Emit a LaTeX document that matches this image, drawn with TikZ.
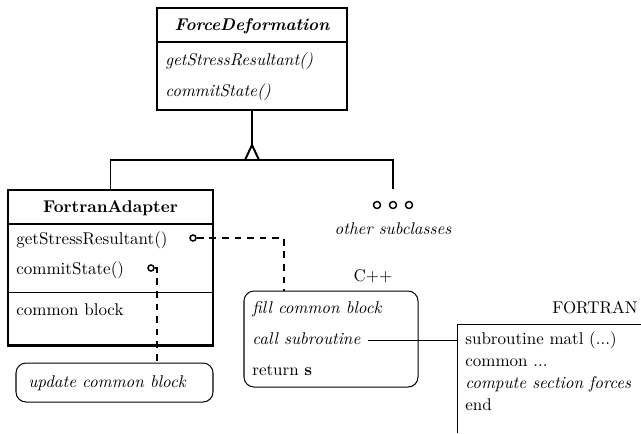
\documentclass[tikz,border=0pt]{standalone}
\usetikzlibrary{calc}
\def\pxu{0.5882pt}
\begin{document}
\begin{tikzpicture}[x=\pxu, y=-\pxu,
  heavy/.style={line width=1.75pt},
  medium/.style={line width=1.15pt},
  hair/.style={line width=0.6pt},
  dashconn/.style={line width=1.1pt, dash pattern=on 4pt off 3.4pt},
  box/.style={draw, rectangle, inner sep=0pt, outer sep=0pt, anchor=north west},
  txt/.style={inner sep=0pt, anchor=west, text height=7pt, text depth=2pt},
  ctxt/.style={inner sep=0pt, text height=7pt, text depth=2pt},
  port/.style={circle, draw, line width=0.9pt, inner sep=0pt, minimum size={6*\pxu}},
  dot/.style={circle, draw, line width=0.85pt, inner sep=0pt, minimum size={7*\pxu}},
  note/.style={draw, hair, rectangle, rounded corners={10*\pxu}, inner sep=0pt, outer sep=0pt, anchor=north west}]
\useasboundingbox (0,0) rectangle (641,433);

% abstract base class
\node[box, heavy, minimum width={190*\pxu}, minimum height={102*\pxu}] (fd) at (157,8) {};
\draw[heavy] (fd.west |- 0,42) -- (fd.east |- 0,42);
\node[ctxt] (fdname) at (252,26) {\bfseries\itshape ForceDeformation};
\node[txt] (fdm1) at (165,61) {\itshape getStressResultant()};
\node[txt] (fdm2) at (165,92) {\itshape commitState()};

% adapter subclass
\node[box, heavy, minimum width={205*\pxu}, minimum height={155*\pxu}] (fa) at (8,190) {};
\draw[line width=1.4pt] (fa.west |- 0,224) -- (fa.east |- 0,224);
\draw[hair] (fa.west |- 0,292) -- (fa.east |- 0,292);
\node[ctxt] (faname) at (110.5,208) {\bfseries FortranAdapter};
\node[txt] (fam1) at (16,240) {getStressResultant()};
\node[txt] (fam2) at (16,270) {commitState()};
\node[txt] (faattr) at (16,311) {common block};

% other subclasses
\node[dot] (d1) at (377,205) {};
\node[dot] (d2) at (393,205) {};
\node[dot] (d3) at (409,205) {};
\node[ctxt] (othr) at (393,230) {\itshape other subclasses};

% generalization
\coordinate (apex) at (fd.south |- 0,145);
\draw[medium] (fd.south) -- (apex);
\draw[medium] ($(apex)+(-7,15)$) -- (apex) -- ($(apex)+(7,15)$);
\draw[medium] (fa.north) -- (fa.north |- 0,160) -- (d2.north |- 0,160) -- ($(d2.north)+(0,-12)$);

% implementation notes
\node[note, minimum width={197*\pxu}, minimum height={39*\pxu}] (upd) at (16,363) {};
\node[txt] (updt) at (28,383) {\itshape update common block};

\node[note, minimum width={174*\pxu}, minimum height={96*\pxu}] (cpp) at (244,291) {};
\node[ctxt] (cpplbl) at (373,277) {C++};
\node[txt] (c1) at (252,309) {\itshape fill common block};
\node[txt] (c2) at (252,340) {\itshape call subroutine};
\node[txt] (c3) at (252,371) {return \textbf{s}};

\node[port] (p1) at (193,238) {};
\node[port] (p2) at (151,268) {};
\draw[dashconn] (p1.east) -| (cpp.north -| 284,0);
\draw[dashconn] (p2.east) -| (upd.north -| 157,0);

% Fortran routine
\coordinate (ftc) at (457,324);
\draw[hair] (ftc |- 0,433) -- (ftc) -- (641,324);
\node[ctxt] (ftlbl) at (595,309) {FORTRAN};
\node[txt] (f1) at (465,340) {subroutine matl (...)};
\node[txt] (f2) at (465,362) {common ...};
\node[txt] (f3) at (465,384) {\itshape compute section forces};
\node[txt] (f4) at (465,406) {end};

\draw[hair] ($(c2.east)+(7,0)$) -- (ftc |- c2.east);
\end{tikzpicture}
\end{document}
